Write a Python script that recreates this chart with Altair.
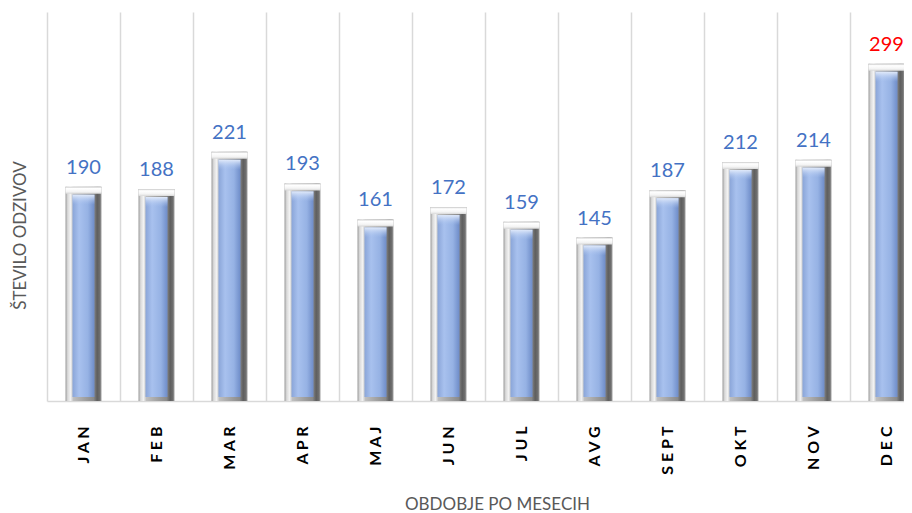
import altair as alt
import pandas as pd

months = ["JAN", "FEB", "MAR", "APR", "MAJ", "JUN", "JUL", "AVG", "SEPT", "OKT", "NOV", "DEC"]
values = [190, 188, 221, 193, 161, 172, 159, 145, 187, 212, 214, 299]

df = pd.DataFrame({"month": months, "value": values})

FONT = "Lato"

x_enc = alt.X(
    "month:N",
    sort=months,
    scale=alt.Scale(range=[0, 876], paddingInner=0, paddingOuter=0),
    axis=alt.Axis(
        title="OBDOBJE PO MESECIH",
        labelAngle=270,
        labelFont=FONT,
        labelFontSize=16,
        labelFontWeight="bold",
        labelColor="#000000",
        labelPadding=25,
        labelExpr="join(split(datum.label, ''), ' ')",
        ticks=False,
        domainColor="#d9d9d9",
        domainWidth=1.5,
        grid=True,
        gridColor="#d9d9d9",
        gridWidth=1.5,
        tickBand="extent",
        titleX=450,
        titleY=108,
        titleAlign="center",
        titleBaseline="alphabetic",
        titleFont=FONT,
        titleFontSize=17,
        titleFontWeight="normal",
        titleColor="#595959",
    ),
)

y_enc = alt.Y(
    "value:Q",
    scale=alt.Scale(domain=[0, 345], nice=False, zero=True),
    axis=alt.Axis(
        title="ŠTEVILO ODZIVOV",
        labels=False,
        ticks=False,
        domain=False,
        grid=False,
        titleX=-27,
        titleY=223,
        titleAngle=270,
        titleAlign="center",
        titleBaseline="middle",
        titleFont=FONT,
        titleFontSize=17,
        titleFontWeight="normal",
        titleColor="#595959",
    ),
)

base = alt.Chart(df).encode(x=x_enc)

grey_grad = alt.LinearGradient(
    gradient="linear", x1=0, x2=1, y1=0, y2=0,
    stops=[
        alt.GradientStop(color="#9a9a9a", offset=0),
        alt.GradientStop(color="#d9d9d9", offset=0.06),
        alt.GradientStop(color="#f2f2f2", offset=0.14),
        alt.GradientStop(color="#bfbfbf", offset=0.22),
        alt.GradientStop(color="#8a8a8a", offset=0.78),
        alt.GradientStop(color="#5e5e5e", offset=0.88),
        alt.GradientStop(color="#6e6e6e", offset=0.95),
        alt.GradientStop(color="#a0a0a0", offset=1),
    ],
)

cap_grad = alt.LinearGradient(
    gradient="linear", x1=0, x2=0, y1=0, y2=1,
    stops=[
        alt.GradientStop(color="#c8c8c8", offset=0),
        alt.GradientStop(color="#ffffff", offset=0.25),
        alt.GradientStop(color="#f4f4f4", offset=0.7),
        alt.GradientStop(color="#d8d8d8", offset=1),
    ],
)

blue_grad = alt.LinearGradient(
    gradient="linear", x1=0, x2=1, y1=0, y2=0,
    stops=[
        alt.GradientStop(color="#8aa5d8", offset=0),
        alt.GradientStop(color="#a8c1ee", offset=0.3),
        alt.GradientStop(color="#96b2e4", offset=0.7),
        alt.GradientStop(color="#6e8cc8", offset=1),
    ],
)

hl_grad = alt.LinearGradient(
    gradient="linear", x1=0, x2=0, y1=0, y2=1,
    stops=[
        alt.GradientStop(color="rgba(225,234,250,1)", offset=0),
        alt.GradientStop(color="rgba(170,195,238,0)", offset=1),
    ],
)

outer = base.mark_bar(width=36, color=grey_grad).encode(y=y_enc)

cap = base.mark_bar(width=36, color=cap_grad, y2Offset=7).encode(
    y=y_enc, y2=alt.Y2("value:Q")
)

inner = base.mark_bar(width=22, color=blue_grad, yOffset=8, y2Offset=-4).encode(
    y=y_enc, y2=alt.Y2(datum=0)
)

highlight = base.mark_bar(width=22, color=hl_grad, yOffset=8, y2Offset=18).encode(
    y=y_enc, y2=alt.Y2("value:Q")
)

labels = base.mark_text(dy=-13, baseline="alphabetic", fontSize=20, font=FONT).encode(
    y=y_enc,
    text="value:Q",
    color=alt.condition("datum.month === 'DEC'", alt.value("#FF0000"), alt.value("#4472C4")),
)

chart = alt.layer(outer, cap, inner, highlight, labels).properties(
    width=857,
    height=389,
    padding={"left": 39, "top": 4, "right": 0, "bottom": 112},
    autosize=alt.AutoSizeParams(type="none"),
).configure_view(stroke=None)

chart.save("out.html", embed_options={"renderer": "svg", "actions": False})
